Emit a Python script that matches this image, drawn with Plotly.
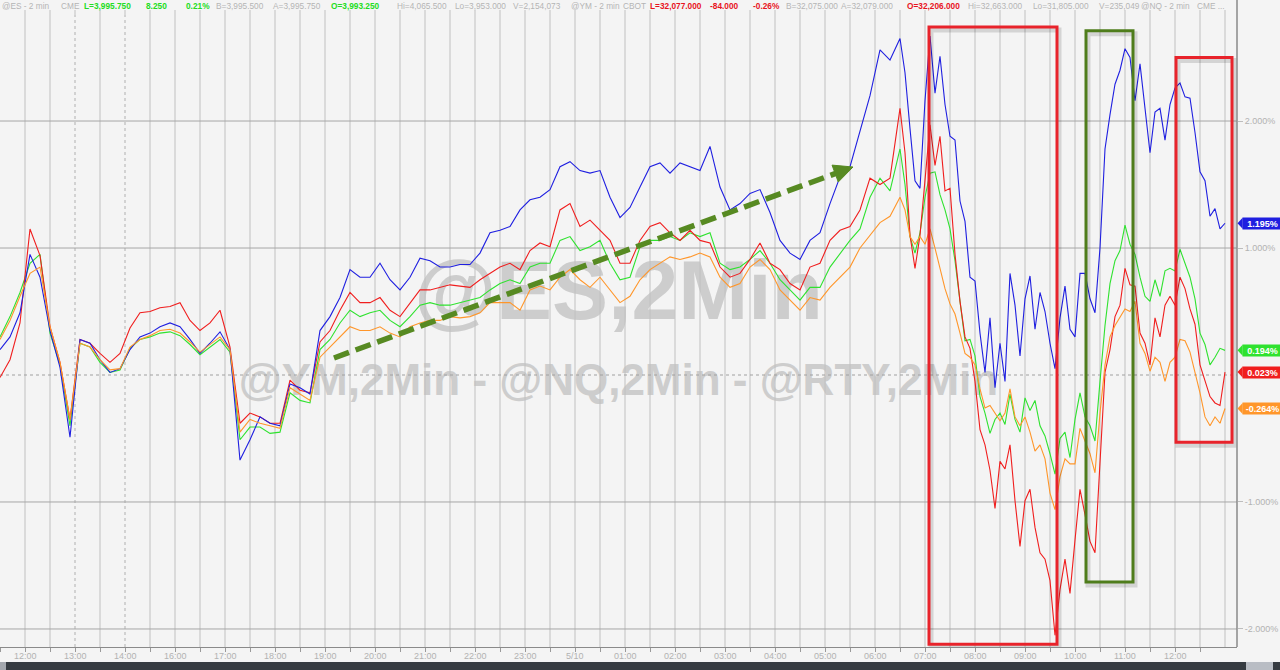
import plotly.graph_objects as go

# ---------------- DATA ----------------
# time axis in hours after the first "12:00" label (15:00 hour skipped on the axis)
times = [round(-0.5 + 0.2 * i, 2) for i in range(90)] + [round(17.5 + 0.1 * j, 2) for j in range(66)]

tick_labels = ["12:00", "13:00", "14:00", "16:00", "17:00", "18:00", "19:00", "20:00",
               "21:00", "22:00", "23:00", "5/10", "01:00", "02:00", "03:00", "04:00",
               "05:00", "06:00", "07:00", "08:00", "09:00", "10:00", "11:00", "12:00"]

nq = [0.20, 0.30, 0.49, 0.95, 0.77, 0.35, 0.06, -0.49, 0.28, 0.25,
      0.12, 0.02, 0.05, 0.20, 0.30, 0.33, 0.38, 0.41, 0.38, 0.28,
      0.17, 0.25, 0.34, 0.20, -0.67, -0.51, -0.33, -0.38, -0.40, -0.07,
      -0.10, -0.15, 0.35, 0.46, 0.61, 0.83, 0.77, 0.77, 0.88, 0.75,
      0.67, 0.77, 0.92, 0.90, 0.85, 0.85, 0.87, 0.87, 0.96, 1.12,
      1.14, 1.17, 1.30, 1.38, 1.40, 1.46, 1.64, 1.68, 1.61, 1.59,
      1.61, 1.40, 1.24, 1.32, 1.48, 1.64, 1.67, 1.59, 1.67, 1.64,
      1.61, 1.80, 1.48, 1.30, 1.35, 1.43, 1.46, 1.28, 1.06, 0.96,
      0.91, 1.06, 1.12, 1.35, 1.56, 1.64, 1.91, 2.20, 2.56, 2.48,
      2.65, 2.38, 1.94, 1.53, 1.47, 2.16, 2.67, 2.22, 2.51, 2.13,
      1.88, 1.85, 1.37, 1.21, 0.77, 0.74, 0.33, 0.02, 0.45, -0.10,
      0.25, -0.05, 0.80, 0.55, 0.15, 0.60, 0.78, 0.36, 0.65, 0.50,
      0.25, 0.05, 0.45, 0.70, 0.36, 0.30, 0.80, 0.80, 0.60, 0.49,
      1.00, 1.78, 2.05, 2.29, 2.40, 2.57, 2.50, 2.16, 2.45, 2.10,
      1.75, 2.07, 2.10, 1.85, 2.13, 2.26, 2.30, 2.19, 2.18, 1.91,
      1.60, 1.53, 1.25, 1.31, 1.15, 1.195]

ym = [-0.02, 0.12, 0.41, 1.15, 0.94, 0.38, 0.10, -0.35, 0.28, 0.25,
      0.17, 0.10, 0.17, 0.37, 0.49, 0.50, 0.53, 0.54, 0.57, 0.43,
      0.35, 0.41, 0.51, 0.22, -0.38, -0.30, -0.33, -0.38, -0.38, -0.04,
      -0.12, -0.14, 0.26, 0.35, 0.51, 0.65, 0.57, 0.57, 0.61, 0.51,
      0.46, 0.57, 0.67, 0.67, 0.69, 0.71, 0.70, 0.69, 0.75, 0.80,
      0.85, 0.88, 0.83, 0.98, 1.04, 1.01, 1.30, 1.35, 1.17, 1.22,
      1.14, 1.06, 0.88, 0.88, 1.06, 1.17, 1.20, 1.12, 1.06, 1.14,
      1.06, 1.04, 0.85, 0.77, 0.80, 0.91, 1.04, 0.88, 0.83, 0.72,
      0.67, 0.85, 0.88, 1.06, 1.14, 1.17, 1.30, 1.55, 1.50, 1.55,
      2.10, 1.75, 1.10, 0.84, 1.10, 1.55, 1.97, 1.65, 1.88, 1.45,
      1.47, 0.95, 0.58, 0.30, 0.21, -0.05, -0.43, -0.55, -0.75, -1.05,
      -0.68, -0.74, -0.55, -0.99, -1.35, -0.99, -0.90, -1.20, -1.40, -1.45,
      -1.62, -2.05, -1.69, -1.45, -1.72, -1.30, -0.90, -1.10, -1.31, -1.40,
      -0.65, 0.02, 0.20, 0.46, 0.55, 0.84, 0.71, 0.70, 0.33, 0.25,
      0.08, 0.45, 0.30, 0.55, 0.62, 0.55, 0.77, 0.68, 0.52, 0.40,
      0.08, -0.05, -0.17, -0.22, -0.24, 0.023]

es = [0.30, 0.46, 0.65, 0.88, 0.95, 0.33, 0.08, -0.40, 0.25, 0.22,
      0.10, 0.02, 0.04, 0.21, 0.28, 0.30, 0.33, 0.34, 0.31, 0.24,
      0.16, 0.22, 0.28, 0.18, -0.51, -0.41, -0.41, -0.46, -0.45, -0.14,
      -0.20, -0.22, 0.20, 0.28, 0.41, 0.51, 0.46, 0.49, 0.51, 0.43,
      0.38, 0.46, 0.55, 0.57, 0.55, 0.55, 0.57, 0.59, 0.61, 0.67,
      0.72, 0.75, 0.72, 0.85, 0.88, 0.88, 1.06, 1.09, 0.98, 1.01,
      1.06, 0.88, 0.75, 0.77, 1.01, 1.06, 1.06, 1.09, 1.06, 1.12,
      1.09, 1.12, 0.88, 0.83, 0.85, 0.91, 0.98, 0.88, 0.75, 0.67,
      0.59, 0.69, 0.69, 0.85, 0.96, 1.06, 1.15, 1.40, 1.55, 1.45,
      1.78, 1.50, 1.09, 0.96, 1.12, 1.40, 1.59, 1.60, 1.42, 1.30,
      1.15, 0.90, 0.58, 0.27, 0.28, 0.15, -0.17, -0.30, -0.46, -0.35,
      -0.30, -0.39, -0.15, -0.35, -0.45, -0.18, -0.28, -0.20, -0.40, -0.48,
      -0.62, -0.78, -0.50, -0.45, -0.65, -0.35, -0.14, -0.33, -0.40, -0.52,
      -0.05, 0.39, 0.72, 0.90, 0.98, 1.18, 1.03, 0.95, 0.77, 0.62,
      0.58, 0.75, 0.62, 0.82, 0.84, 0.82, 0.99, 0.88, 0.77, 0.60,
      0.33, 0.24, 0.08, 0.14, 0.21, 0.194]

rty = [0.28, 0.43, 0.62, 0.80, 0.85, 0.38, 0.10, -0.35, 0.25, 0.22,
       0.12, 0.04, 0.05, 0.22, 0.28, 0.31, 0.35, 0.36, 0.33, 0.26,
       0.18, 0.24, 0.30, 0.20, -0.45, -0.35, -0.38, -0.40, -0.42, -0.10,
       -0.15, -0.20, 0.14, 0.22, 0.30, 0.38, 0.35, 0.35, 0.38, 0.33,
       0.30, 0.38, 0.41, 0.43, 0.43, 0.46, 0.45, 0.46, 0.49, 0.57,
       0.57, 0.57, 0.51, 0.67, 0.70, 0.67, 0.77, 0.83, 0.75, 0.69,
       0.77, 0.67, 0.57, 0.62, 0.75, 0.83, 0.88, 0.93, 0.91, 0.93,
       0.96, 0.93, 0.77, 0.69, 0.72, 0.85, 0.91, 0.83, 0.67, 0.59,
       0.51, 0.61, 0.59, 0.69, 0.77, 0.85, 1.00, 1.10, 1.20, 1.25,
       1.40, 1.30, 1.09, 1.03, 1.09, 1.03, 1.15, 1.00, 0.85, 0.68,
       0.56, 0.48, 0.33, 0.17, 0.14, 0.08, -0.11, -0.26, -0.24, -0.30,
       -0.36, -0.30, -0.11, -0.33, -0.40, -0.33, -0.45, -0.60, -0.55, -0.66,
       -0.93, -1.06, -0.80, -0.66, -0.70, -0.70, -0.42, -0.52, -0.62, -0.77,
       -0.30, 0.08, 0.30, 0.39, 0.45, 0.52, 0.50, 0.58, 0.25, 0.17,
       0.03, 0.14, 0.10, -0.05, 0.10, 0.14, 0.28, 0.27, 0.18, 0.02,
       -0.14, -0.33, -0.40, -0.33, -0.38, -0.264]

last_labels = {"nq": "1.195%", "es": "0.194%", "ym": "0.023%", "rty": "-0.264%"}

# ---------------- STYLE ----------------
W, H = 1280, 670
ML, MR, MT, MB = 0, 43, 15, 23
PW, PH = W - ML - MR, H - MT - MB
XR = [-0.5, 24.24]
YR = [-2.142, 2.835]
BG = "#f4f4f4"
VGRID = "#c0c0c0"
HGRID = "#a6a6a6"
AXC = "#8a8a8a"
LBL = "#b2b2b2"
C_NQ, C_YM, C_ES, C_RTY = "#1f1fe0", "#f01e1e", "#2fe22f", "#ff962a"
FONT = "Liberation Sans, Arial, sans-serif"


def px_x(t):
    return ML + (t - XR[0]) / (XR[1] - XR[0]) * PW


def px_y(v):
    return MT + (YR[1] - v) / (YR[1] - YR[0]) * PH


def dx(px):
    return XR[0] + (px - ML) / PW * (XR[1] - XR[0])


def dy(py):
    return YR[1] - (py - MT) / PH * (YR[1] - YR[0])


def pap_x(px):
    return (px - ML) / PW


def pap_y(py):
    return (H - MB - py) / PH


fig = go.Figure()

# watermark (under everything)
fig.add_trace(go.Scatter(x=[(XR[0] + XR[1]) / 2], y=[0.61], mode="text", text=["<b>@ES,2Min</b>"],
                         textfont=dict(size=84, color="#cdcdcd", family=FONT), hoverinfo="skip", showlegend=False))
fig.add_trace(go.Scatter(x=[(XR[0] + XR[1]) / 2], y=[-0.07], mode="text",
                         text=["<b>@YM,2Min - @NQ,2Min - @RTY,2Min</b>"],
                         textfont=dict(size=44, color="#cdcdcd", family=FONT), hoverinfo="skip", showlegend=False))

# grid lines drawn as traces so they sit above the watermark
vgx, vgy, dgx, dgy, hgx, hgy = [], [], [], [], [], []
grid_t = []
k = 0
while k * 0.5 <= 24.0 + 1e-9:
    t = k * 0.5
    grid_t.append(t)
    if t in (1.0, 2.0):
        dgx += [t, t, None]
        dgy += [YR[0], YR[1], None]
    else:
        vgx += [t, t, None]
        vgy += [YR[0], YR[1], None]
    k += 1
for v in (2, 1, -1, -2):
    hgx += [XR[0], XR[1], None]
    hgy += [v, v, None]
fig.add_trace(go.Scatter(x=vgx, y=vgy, mode="lines", line=dict(color=VGRID, width=1),
                         hoverinfo="skip", showlegend=False))
fig.add_trace(go.Scatter(x=dgx, y=dgy, mode="lines", line=dict(color="#b0b0b0", width=1, dash="3px,3px"),
                         hoverinfo="skip", showlegend=False))
fig.add_trace(go.Scatter(x=hgx, y=hgy, mode="lines", line=dict(color=HGRID, width=1),
                         hoverinfo="skip", showlegend=False))
fig.add_trace(go.Scatter(x=[XR[0], XR[1]], y=[0, 0], mode="lines", line=dict(color="#a0a0a0", width=1, dash="3px,3px"),
                         hoverinfo="skip", showlegend=False))

# series
for name, vals, col in (("@ES", es, C_ES), ("@YM", ym, C_YM), ("@NQ", nq, C_NQ), ("@RTY", rty, C_RTY)):
    fig.add_trace(go.Scatter(x=times, y=vals, mode="lines", name=name,
                             line=dict(color=col, width=1.1), showlegend=False))

shapes = []
annotations = []

# short top tick marks under the header
for t in grid_t:
    shapes.append(dict(type="line", xref="x", yref="paper", x0=t, x1=t, y0=pap_y(15), y1=pap_y(10),
                       line=dict(color=VGRID, width=1)))

# highlight boxes (in data units)
boxes = [((18.08, 20.64), (2.74, -2.12), "#e8232b"),
         ((21.22, 22.16), (2.71, -1.63), "#4f7d1c"),
         ((23.02, 24.14), (2.50, -0.53), "#e8232b")]
for (x0, x1), (y0, y1), col in boxes:
    shapes.append(dict(type="rect", xref="x", yref="y", x0=x0 + dx(ML + 2) - XR[0], x1=x1 + dx(ML + 2) - XR[0],
                       y0=y0 - 3 / PH * (YR[1] - YR[0]), y1=y1 - 3 / PH * (YR[1] - YR[0]),
                       line=dict(color="rgba(0,0,0,0.13)", width=5), layer="above"))
    shapes.append(dict(type="rect", xref="x", yref="y", x0=x0, x1=x1, y0=y0, y1=y1,
                       line=dict(color=col, width=3), layer="above"))

# dashed trend arrow
a_start = (6.18, 0.134)
a_tip = (16.56, 1.638)
sx, sy = px_x(a_start[0]), px_y(a_start[1])
tx, ty = px_x(a_tip[0]), px_y(a_tip[1])
L = ((tx - sx) ** 2 + (ty - sy) ** 2) ** 0.5
ux, uy = (tx - sx) / L, (ty - sy) / L
hl, hw = 19, 9
bx, by = tx - hl * ux, ty - hl * uy
shapes.append(dict(type="line", xref="x", yref="y", x0=a_start[0], y0=a_start[1], x1=dx(bx + 2 * ux), y1=dy(by + 2 * uy),
                   line=dict(color="#578a22", width=5.5, dash="16px,7px"), layer="above"))
p1 = (dx(bx - hw * uy), dy(by + hw * ux))
p2 = (dx(bx + hw * uy), dy(by - hw * ux))
shapes.append(dict(type="path", xref="x", yref="y",
                   path=f"M {a_tip[0]},{a_tip[1]} L {p1[0]},{p1[1]} L {p2[0]},{p2[1]} Z",
                   fillcolor="#578a22", line=dict(color="#578a22", width=1), layer="above"))

# right axis frame line (extends to top of page)
shapes.append(dict(type="line", xref="paper", yref="paper", x0=1, x1=1, y0=0, y1=pap_y(0),
                   line=dict(color=AXC, width=1.5)))

# last value tags
tag_h = 5.5 / PH * (YR[1] - YR[0])
for key, vals, col in (("nq", nq, C_NQ), ("es", es, C_ES), ("ym", ym, C_YM), ("rty", rty, C_RTY)):
    v = vals[-1]
    x_left = pap_x(ML + PW + 5)
    annotations.append(dict(xref="paper", yref="y", x=x_left, y=v, xanchor="left", yanchor="middle",
                            text="<b>" + last_labels[key] + "</b>", showarrow=False,
                            font=dict(family=FONT, size=9, color="white"), bgcolor=col,
                            borderpad=1, width=37, height=9, align="center"))
    shapes.append(dict(type="path", xref="paper", yref="y",
                       path=f"M {pap_x(ML + PW + 0.5)},{v} L {x_left + 0.0005},{v + tag_h} L {x_left + 0.0005},{v - tag_h} Z",
                       fillcolor=col, line=dict(color=col, width=0)))

# x tick labels (placed as text just under the axis)
for i, lab in enumerate(tick_labels):
    annotations.append(dict(xref="x", yref="paper", x=i, y=pap_y(656), xanchor="center", yanchor="middle",
                            text=lab, showarrow=False, font=dict(family=FONT, size=9, color=LBL)))

# header ticker line
hdr_gray = "#b4b4b4"
hdr_green = "#22dd22"
hdr_red = "#e8141e"
header = [(0, "@ES - 2 min", hdr_gray, False), (59, "CME", hdr_gray, False),
          (82, "L=3,995.750", hdr_green, True), (144, "8.250", hdr_green, True),
          (184, "0.21%", hdr_green, True), (214, "B=3,995.500", hdr_gray, False),
          (271, "A=3,995.750", hdr_gray, False), (329, "O=3,993.250", hdr_green, True),
          (395, "Hi=4,065.500", hdr_gray, False), (453, "Lo=3,953.000", hdr_gray, False),
          (511, "V=2,154,073", hdr_gray, False), (569, "@YM - 2 min", hdr_gray, False),
          (621, "CBOT", hdr_gray, False),
          (648, "L=32,077.000", hdr_red, True), (708, "-84.000", hdr_red, True),
          (751, "-0.26%", hdr_red, True), (784, "B=32,075.000", hdr_gray, False),
          (839, "A=32,079.000", hdr_gray, False), (905, "O=32,206.000", hdr_red, True),
          (966, "Hi=32,663.000", hdr_gray, False), (1031, "Lo=31,805.000", hdr_gray, False),
          (1097, "V=235,049", hdr_gray, False), (1139, "@NQ - 2 min", hdr_gray, False),
          (1195, "CME ...", hdr_gray, False)]
for xpx, txt, col, bold in header:
    annotations.append(dict(xref="paper", yref="paper", x=pap_x(xpx), y=pap_y(5.5), xanchor="left", yanchor="middle",
                            text=("<b>%s</b>" % txt) if bold else txt, showarrow=False,
                            font=dict(family=FONT, size=8.3, color=col)))

# bottom scroll bar
shapes.append(dict(type="rect", xref="paper", yref="paper", x0=0, x1=pap_x(W), y0=pap_y(662), y1=pap_y(H),
                   fillcolor="#363b41", line=dict(width=0)))
shapes.append(dict(type="rect", xref="paper", yref="paper", x0=0, x1=pap_x(6), y0=pap_y(662), y1=pap_y(H),
                   fillcolor="#a3a7ad", line=dict(width=0)))
shapes.append(dict(type="rect", xref="paper", yref="paper", x0=pap_x(1246), x1=pap_x(1273), y0=pap_y(662), y1=pap_y(H),
                   fillcolor="#b9bdc4", line=dict(width=0)))

fig.update_layout(
    width=W, height=H,
    margin=dict(l=ML, r=MR, t=MT, b=MB, pad=0),
    paper_bgcolor=BG, plot_bgcolor=BG,
    showlegend=False,
    shapes=shapes, annotations=annotations,
    xaxis=dict(range=XR, tickmode="array", tickvals=list(range(len(tick_labels))), ticktext=tick_labels,
               showticklabels=False,
               showgrid=False, zeroline=False, showline=True, linecolor=AXC, linewidth=1,
               ticks="outside", ticklen=4, tickcolor="#9a9a9a",
               minor=dict(ticks="outside", ticklen=4, tickcolor="#9a9a9a", tick0=0.5, dtick=1, showgrid=False),
               automargin=False, fixedrange=True),
    yaxis=dict(range=YR, side="right", tickmode="array", tickvals=[-2, -1, 1, 2],
               ticktext=["-2.000%", "-1.000%", "1.000%", "2.000%"],
               showgrid=False, zeroline=False, showline=False,
               ticks="outside", ticklen=5, tickcolor="#bdbdbd",
               tickfont=dict(family=FONT, size=9, color=LBL), automargin=False, fixedrange=True),
)

fig.write_html("out.html", config={"displayModeBar": False},
               post_script="document.body.style.margin='0px';document.body.style.overflow='hidden';"
                           "document.documentElement.style.background='" + BG + "';")
